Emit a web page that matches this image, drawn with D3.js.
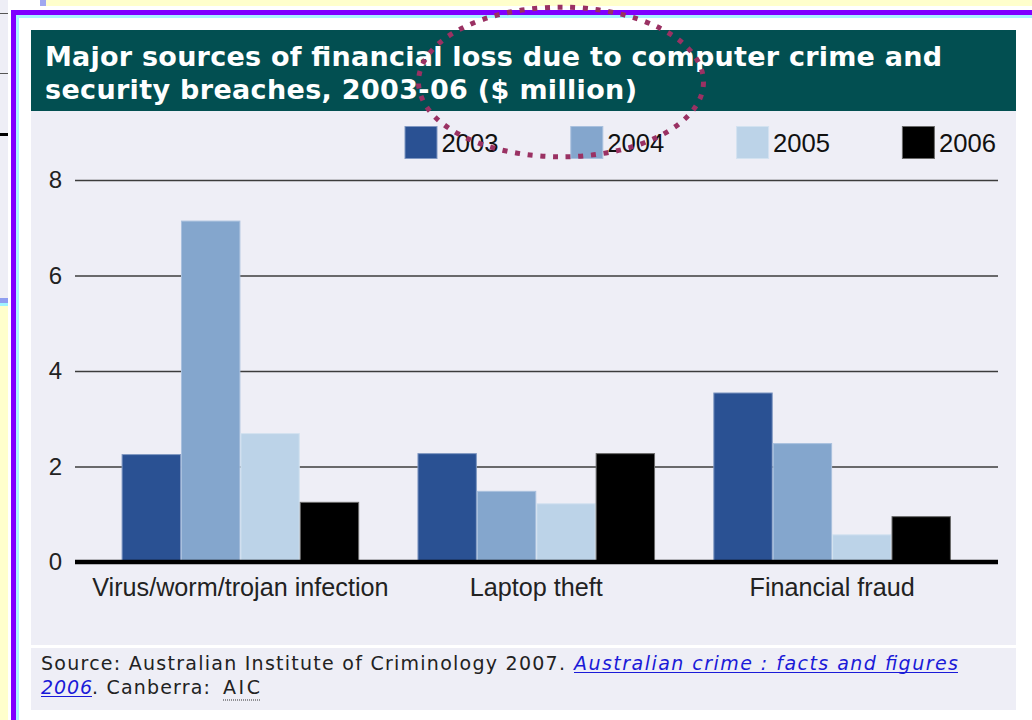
<!DOCTYPE html>
<html><head><meta charset="utf-8">
<script src="https://cdn.jsdelivr.net/npm/d3@7"></script>
<style>html,body{margin:0;padding:0;background:#fff;} svg{display:block;}</style>
</head><body>
<svg id="chart" width="1032" height="720"></svg>
<script>
// ---- data ----
const categories = ["Virus/worm/trojan infection", "Laptop theft", "Financial fraud"];
const years = ["2003", "2004", "2005", "2006"];
const values2003 = [2.26, 2.28, 3.55];
const values2004 = [7.15, 1.49, 2.49];
const values2005 = [2.70, 1.23, 0.58];
const values2006 = [1.26, 2.28, 0.96];
const yTicks = [0, 2, 4, 6, 8];
const titleLines = ["Major sources of financial loss due to computer crime and",
                    "security breaches, 2003-06 ($ million)"];

const seriesValues = [values2003, values2004, values2005, values2006];
const fills   = ["#2a5193", "#84a6cd", "#bcd3e8", "#000000"];
const strokes = ["#7f97c2", "#a9c0de", "#d3e2f0", "#6a6a6a"];

const svg = d3.select("#chart");

// ---- slide frame around the panel ----
svg.append("rect").attr("x", 0).attr("y", 0).attr("width", 1032).attr("height", 720).attr("fill", "#ffffcc");
svg.append("rect").attr("x", 0).attr("y", 0).attr("width", 8).attr("height", 298).attr("fill", "#eeeef6");
svg.append("rect").attr("x", 0).attr("y", 298).attr("width", 8).attr("height", 5).attr("fill", "#8f9ef0");
svg.append("rect").attr("x", 0).attr("y", 303).attr("width", 8).attr("height", 3).attr("fill", "#9ff5ff");
svg.append("rect").attr("x", 0).attr("y", 13).attr("width", 8).attr("height", 1).attr("fill", "#555");
svg.append("rect").attr("x", 0).attr("y", 73).attr("width", 8).attr("height", 1).attr("fill", "#555");
svg.append("rect").attr("x", 0).attr("y", 133).attr("width", 8).attr("height", 3).attr("fill", "#000");
svg.append("rect").attr("x", 8).attr("y", 0).attr("width", 32).attr("height", 6).attr("fill", "#fff");
svg.append("rect").attr("x", 40).attr("y", 0).attr("width", 6).attr("height", 6).attr("fill", "#a0a8f0");
svg.append("rect").attr("x", 8).attr("y", 6).attr("width", 1024).attr("height", 714).attr("fill", "#fff");
// purple border with cyan inner edge
svg.append("rect").attr("x", 11).attr("y", 10).attr("width", 1021).attr("height", 5).attr("fill", "#7f00ff");
svg.append("rect").attr("x", 11).attr("y", 10).attr("width", 5).attr("height", 710).attr("fill", "#7f00ff");
svg.append("rect").attr("x", 16).attr("y", 15).attr("width", 1016).attr("height", 3).attr("fill", "#a8f4ff");
svg.append("rect").attr("x", 16).attr("y", 15).attr("width", 3).attr("height", 705).attr("fill", "#a8f4ff");

// ---- panels ----
svg.append("rect").attr("x", 31).attr("y", 30).attr("width", 985).attr("height", 81).attr("fill", "#024f51");
svg.append("rect").attr("x", 31).attr("y", 111).attr("width", 985).attr("height", 534).attr("fill", "#eeeef6");
svg.append("rect").attr("x", 31).attr("y", 648).attr("width", 985).attr("height", 62).attr("fill", "#eeeef6");

// ---- title ----
const titleWidths = [897, 592];
titleLines.forEach((t, i) => {
  svg.append("text")
    .attr("x", 45).attr("y", 66 + i * 32.5)
    .attr("font-family", "'DejaVu Sans', Verdana, sans-serif")
    .attr("font-weight", "bold").attr("font-size", 27)
    .attr("fill", "#ffffff")
    .attr("textLength", titleWidths[i]).attr("lengthAdjust", "spacing")
    .text(t);
});

// ---- scales ----
const x0 = d3.scaleBand().domain(categories).range([92, 980.5]).paddingInner(0.197).paddingOuter(0.1);
const x1 = d3.scaleBand().domain(years).range([0, x0.bandwidth()]);
const y = d3.scaleLinear().domain([0, 8]).range([562, 180]);
const gridLeft = 75, gridRight = 998;

// gridlines + tick labels
const yAxis = svg.append("g")
  .attr("transform", `translate(${gridRight},0)`)
  .call(d3.axisLeft(y).tickValues(yTicks).tickSize(gridRight - gridLeft).tickPadding(13).tickFormat(d3.format("d")));
yAxis.select(".domain").remove();
yAxis.selectAll(".tick line").attr("stroke", "#3c3c3c").attr("stroke-width", 1.6);
yAxis.selectAll(".tick text")
  .attr("font-family", "'Liberation Sans', Arial, sans-serif")
  .attr("font-size", 24).attr("fill", "#222");

// ---- bars ----
const rows = categories.map((c, ci) => ({ category: c, values: years.map((yr, si) => ({ year: yr, si, value: seriesValues[si][ci] })) }));
svg.append("g").selectAll("g")
  .data(rows).join("g")
  .attr("transform", d => `translate(${x0(d.category)},0)`)
  .selectAll("rect")
  .data(d => d.values).join("rect")
  .attr("x", d => x1(d.year) + 0.5)
  .attr("y", d => y(d.value) + 0.5)
  .attr("width", x1.bandwidth() - 1)
  .attr("height", d => y(0) - y(d.value) - 0.5)
  .attr("fill", d => fills[d.si])
  .attr("stroke", d => strokes[d.si])
  .attr("stroke-width", 1);

// zero baseline
svg.append("line")
  .attr("x1", gridLeft).attr("x2", gridRight)
  .attr("y1", y(0)).attr("y2", y(0))
  .attr("stroke", "#000").attr("stroke-width", 4.5);

// category labels
const xAxis = svg.append("g")
  .attr("transform", `translate(0,${y(0)})`)
  .call(d3.axisBottom(x0).tickSize(0).tickPadding(16));
xAxis.select(".domain").remove();
xAxis.selectAll(".tick text")
  .attr("font-family", "'Liberation Sans', Arial, sans-serif")
  .attr("font-size", 25.2).attr("fill", "#222");

// ---- legend ----
const legendX = d3.scaleBand().domain(years).range([404.5, 404.5 + 4 * 165.8]);
const legend = svg.append("g").selectAll("g")
  .data(years).join("g")
  .attr("transform", d => `translate(${legendX(d)},126)`);
legend.append("rect")
  .attr("x", 0.5).attr("y", 0.5).attr("width", 32).attr("height", 32)
  .attr("fill", (d, i) => fills[i]).attr("stroke", (d, i) => strokes[i]);
legend.append("text")
  .attr("x", 37).attr("y", 26)
  .attr("font-family", "'Liberation Sans', Arial, sans-serif")
  .attr("font-size", 25.5).attr("fill", "#111")
  .attr("textLength", 57).attr("lengthAdjust", "spacingAndGlyphs")
  .text(d => d);

// ---- highlight ring ----
svg.append("ellipse")
  .attr("cx", 561).attr("cy", 82).attr("rx", 142.5).attr("ry", 74.8)
  .attr("fill", "none").attr("stroke", "#9a3163").attr("stroke-width", 5)
  .attr("stroke-dasharray", "5 7.7");

// ---- source note ----
const srcFont = "'DejaVu Sans', Verdana, sans-serif";
function srcText(x, yb, str, width, opts = {}) {
  const t = svg.append("text")
    .attr("x", x).attr("y", yb)
    .attr("font-family", srcFont).attr("font-size", 19)
    .attr("fill", opts.fill || "#222")
    .attr("font-style", opts.italic ? "italic" : "normal")
    .text(str);
  if (width) t.attr("textLength", width).attr("lengthAdjust", "spacing");
  return t;
}
srcText(41, 670, "Source: Australian Institute of Criminology 2007.", 524);
srcText(574, 670, "Australian crime : facts and figures", 384, { italic: true, fill: "#1a1ad8" });
svg.append("line").attr("x1", 574).attr("x2", 958).attr("y1", 672.5).attr("y2", 672.5)
  .attr("stroke", "#1a1ad8").attr("stroke-width", 1.2);
srcText(41, 694, "2006", 51, { italic: true, fill: "#1a1ad8" });
svg.append("line").attr("x1", 41).attr("x2", 92).attr("y1", 696.5).attr("y2", 696.5)
  .attr("stroke", "#1a1ad8").attr("stroke-width", 1.2);
srcText(92, 694, ". Canberra:", 118);
srcText(223, 694, "AIC", 37);
svg.append("line").attr("x1", 223).attr("x2", 260).attr("y1", 700).attr("y2", 700)
  .attr("stroke", "#333").attr("stroke-width", 1).attr("stroke-dasharray", "1 1");
</script>
</body></html>
